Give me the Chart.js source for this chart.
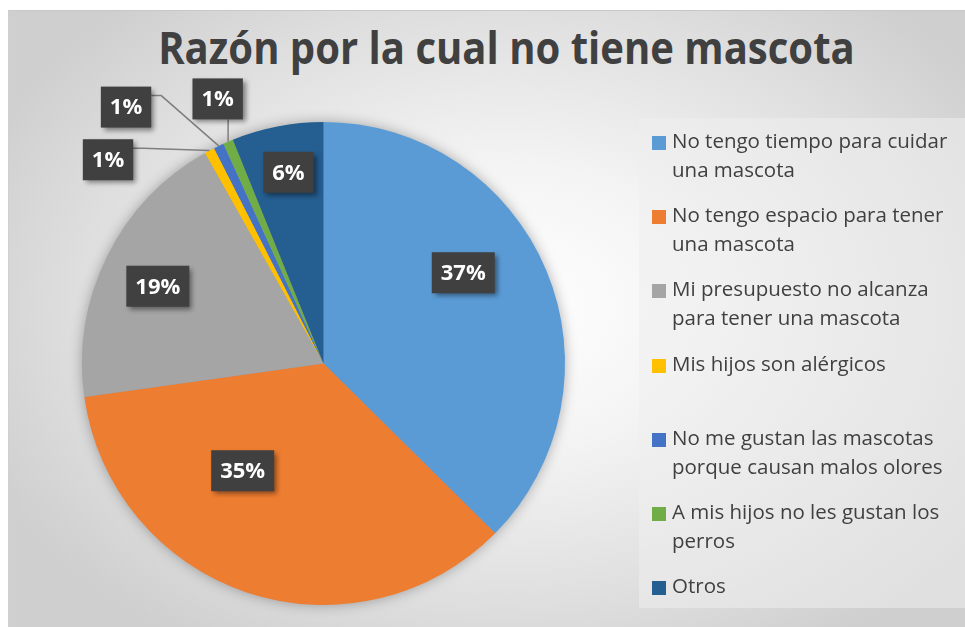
<!DOCTYPE html>
<html lang="es"><head><meta charset="UTF-8">
<title>Razón por la cual no tiene mascota</title>
<script src="https://cdn.jsdelivr.net/npm/chart.js@4.4.1/dist/chart.umd.min.js"></script>
<style>
*{box-sizing:border-box;margin:0;padding:0;}
body{width:965px;height:627px;background:#fff;overflow:hidden;font-family:'Open Sans',Arial,sans-serif;}
.frame{position:absolute;left:8px;top:10px;width:957px;height:617px;border-top:1px solid #c8c8c8;border-left:1px solid #d0d0d0;
  background:radial-gradient(ellipse 60% 65% at 52% 48%,#ffffff 0%,#f4f4f4 35%,#dedede 75%,#cfcfcf 100%);}
.title{position:absolute;left:0;top:16px;width:1013px;text-align:center;font-size:45px;font-weight:700;color:#404040;
  transform:scaleX(0.89);transform-origin:506px 0;white-space:nowrap;}
#wrap{position:absolute;left:0;top:0;width:965px;height:627px;}
.legend{position:absolute;left:639px;top:118px;width:326px;height:490px;background:rgba(238,238,238,0.55);padding:11px 0 0 13px;}
.lg-item{display:flex;align-items:flex-start;height:74.2px;}
.lg-sw{width:14px;height:14px;margin-top:7px;margin-right:6px;flex-shrink:0;}
.lg-txt{font-size:20.5px;line-height:29px;color:#404040;width:300px;margin-top:-3px;white-space:nowrap;}
</style></head>
<body>
<div class="frame"></div>
<div class="title">Razón por la cual no tiene mascota</div>
<div id="wrap"><canvas id="pie" width="965" height="627"></canvas></div>
<div class="legend" id="legend"></div>
<script>
const labels = [
  ['No tengo tiempo para cuidar', 'una mascota'],
  ['No tengo espacio para tener', 'una mascota'],
  ['Mi presupuesto no alcanza', 'para tener una mascota'],
  ['Mis hijos son alérgicos'],
  ['No me gustan las mascotas', 'porque causan malos olores'],
  ['A mis hijos no les gustan los', 'perros'],
  ['Otros']
];
const counts = [55, 52, 28, 1, 1, 1, 9];
const colors = ['#5B9BD5', '#ED7D31', '#A5A5A5', '#FFC000', '#4472C4', '#70AD47', '#255E91'];
// label placement: [angle deg clockwise from top, distance as fraction of radius]
const labelPos = [[57, 0.69], [217, 0.556], [295, 0.757], [313.4, 1.228], [322.4, 1.34], [338.2, 1.18], [349.6, 0.805]];

// html legend
document.getElementById('legend').innerHTML = labels.map((l, i) =>
  `<div class="lg-item"><div class="lg-sw" style="background:${colors[i]}"></div><div class="lg-txt">${l.join('<br>')}</div></div>`).join('');

const total = counts.reduce((a, b) => a + b, 0);

const pieShadow = {
  id: 'pieShadow',
  beforeDatasetsDraw(chart) {
    const arc = chart.getDatasetMeta(0).data[0];
    const ctx = chart.ctx;
    ctx.save();
    ctx.shadowColor = 'rgba(0,0,0,0.35)';
    ctx.shadowBlur = 14;
    ctx.fillStyle = '#999';
    ctx.beginPath();
    ctx.arc(arc.x, arc.y, arc.outerRadius - 1, 0, Math.PI * 2);
    ctx.fill();
    ctx.restore();
  }
};

const dataLabels = {
  id: 'dataLabels',
  afterDatasetsDraw(chart) {
    const ctx = chart.ctx;
    const meta = chart.getDatasetMeta(0);
    meta.data.forEach((arc, i) => {
      const pct = Math.round(counts[i] / total * 100) + '%';
      const [deg, f] = labelPos[i];
      const a = deg * Math.PI / 180;
      const cx = arc.x + Math.sin(a) * arc.outerRadius * f;
      const cy = arc.y - Math.cos(a) * arc.outerRadius * f;
      ctx.save();
      ctx.font = '700 22px "Open Sans"';
      const w = ctx.measureText(pct).width + 18, h = 41;
      const bx = cx - w / 2, by = cy - h / 2;
      // leader line for outside labels
      if (f > 1) {
        const mid = (arc.startAngle + arc.endAngle) / 2;
        const px = arc.x + Math.cos(mid) * arc.outerRadius;
        const py = arc.y + Math.sin(mid) * arc.outerRadius;
        ctx.strokeStyle = '#7f7f7f';
        ctx.lineWidth = 1.5;
        ctx.beginPath();
        if (px > bx && px < bx + w) {
          ctx.moveTo(px, by + h);
        } else {
          ctx.moveTo(bx + w, by + 9);
          ctx.lineTo(bx + w + 10, by + 9);
        }
        ctx.lineTo(px, py);
        ctx.stroke();
      }
      ctx.shadowColor = 'rgba(0,0,0,0.45)';
      ctx.shadowBlur = 5;
      ctx.shadowOffsetX = 3;
      ctx.shadowOffsetY = 3;
      ctx.fillStyle = '#404040';
      ctx.fillRect(bx, by, w, h);
      ctx.shadowColor = 'transparent';
      ctx.fillStyle = '#ffffff';
      ctx.textAlign = 'center';
      ctx.textBaseline = 'middle';
      ctx.fillText(pct, cx, cy + 1);
      ctx.restore();
    });
  }
};

new Chart(document.getElementById('pie'), {
  type: 'pie',
  data: {
    labels: labels.map(l => l.join(' ')),
    datasets: [{ data: counts, backgroundColor: colors, borderWidth: 0 }]
  },
  options: {
    responsive: false,
    animation: false,
    layout: { padding: { left: 82, top: 122, right: 400, bottom: 22 } },
    plugins: { legend: { display: false }, tooltip: { enabled: false } }
  },
  plugins: [pieShadow, dataLabels]
});
</script>
</body></html>
